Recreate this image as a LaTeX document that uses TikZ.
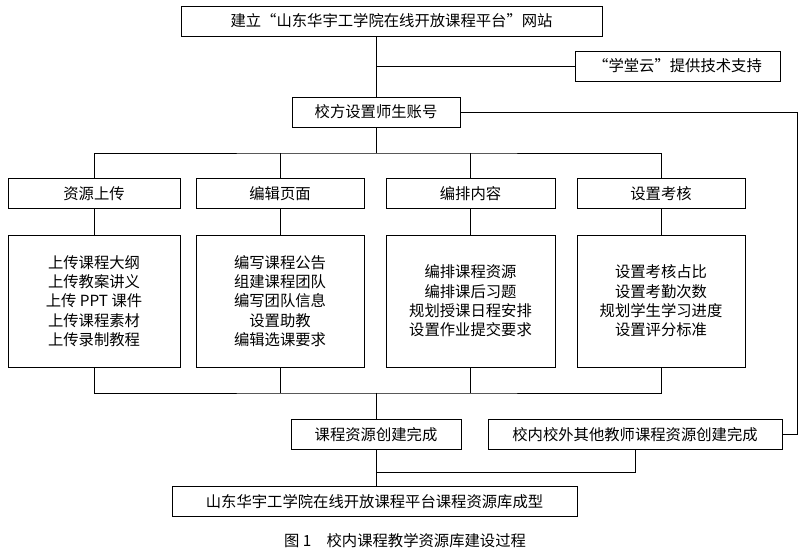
\documentclass[tikz,border=0pt]{standalone}
\usepackage{fontspec}
\setmainfont{Noto Sans CJK SC}
\usetikzlibrary{positioning,calc}

\begin{document}
\begin{tikzpicture}[x=0.75pt,y=-0.75pt,
  box/.style={draw,line width=0.6pt,minimum height=22.5pt,inner sep=2pt,font=\fontsize{11.5}{14.5}\selectfont},
  line/.style={line width=0.6pt}]

  \useasboundingbox (0,0) rectangle (800,555);

  \node[box,minimum width=315.75pt] (site) at (391.5,21) {建立“山东华宇工学院在线开放课程平台”网站};
  \node[box,minimum width=153.75pt] (cloud) at (677.5,66) {“学堂云”提供技术支持};
  \node[box,minimum width=126pt] (acct) at (376,112) {校方设置师生账号};

  \node[box,minimum width=129pt] (up) at (94,193.5) {资源上传};
  \node[box,minimum width=126pt] (edit) at (280,193.5) {编辑页面};
  \node[box,minimum width=126.75pt] (arr) at (470.5,193.5) {编排内容};
  \node[box,minimum width=126pt] (exam) at (661,193.5) {设置考核};

  \node[box,minimum width=129pt,minimum height=99pt,align=center] (upL) at (94,301)
  {上传课程大纲\\上传教案讲义\\上传 PPT 课件\\上传课程素材\\上传录制教程};
  \node[box,minimum width=126pt,minimum height=99pt,align=center] (editL) at (280,301)
  {编写课程公告\\组建课程团队\\编写团队信息\\设置助教\\编辑选课要求};
  \node[box,minimum width=126.75pt,minimum height=99pt,align=center] (arrL) at (470.5,301)
  {编排课程资源\\编排课后习题\\规划授课日程安排\\设置作业提交要求};
  \node[box,minimum width=126pt,minimum height=99pt,align=center] (examL) at (661,301)
  {设置考核占比\\设置考勤次数\\规划学生学习进度\\设置评分标准};

  \node[box,minimum width=127.5pt] (done) at (376,434.5) {课程资源创建完成};
  \node[box,minimum width=220.5pt] (other) at (635,434.5) {校内校外其他教师课程资源创建完成};
  \node[box,minimum width=303.75pt] (lib) at (374.5,501.5) {山东华宇工学院在线开放课程平台课程资源库成型};

  \node[font=\fontsize{11.5}{14}\selectfont] (cap) at (405,541) {图 1\quad 校内课程教学资源库建设过程};

  % trunk and side branches
  \draw[line] (site.south -| acct) -- (acct.north);
  \draw[line] (acct.north |- cloud) -- (cloud.west);
  \draw[line] (acct.south) -- (376,153);
  \draw[line] (up.north) |- (376,153) -| (exam.north);
  \draw[line] (edit.north) -- (edit.north |- 0,153);
  \draw[line] (arr.north) -- (arr.north |- 0,153);
  \foreach \n in {up,edit,arr,exam}
    \draw[line] (\n.south) -- (\n L.north);

  % merge
  \draw[line] (upL.south) |- (376,393) -| (examL.south);
  \draw[line] (editL.south) -- (editL.south |- 0,393);
  \draw[line] (arrL.south) -- (arrL.south |- 0,393);
  \draw[line] (376,393) -- (done.north);
  \draw[line] (acct.east) -- (797,112) |- (other.east);
  \draw[line] (done.south) -- (lib.north -| done);
  \draw[line] (done.south |- 0,472) -| (other.south);
\end{tikzpicture}
\end{document}
